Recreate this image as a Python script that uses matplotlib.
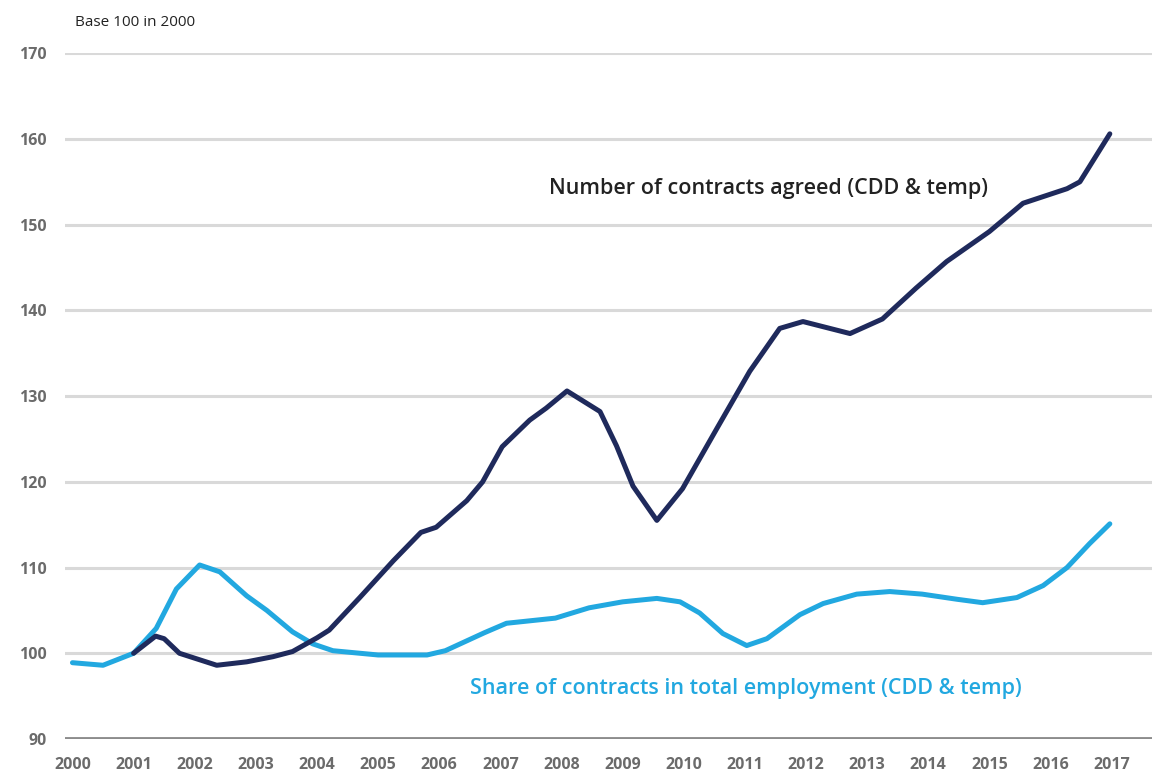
import numpy as np
import matplotlib
matplotlib.use("Agg")
from matplotlib import pyplot as plt

# datos (base 100 en 2000)
share_x = [2000.0, 2000.5, 2001.0, 2001.37, 2001.7, 2002.08, 2002.41, 2002.85, 2003.18,
           2003.6, 2003.93, 2004.26, 2005.0, 2005.8, 2006.1, 2006.74, 2007.1, 2007.9,
           2008.45, 2009.0, 2009.56, 2009.94, 2010.26, 2010.64, 2011.03, 2011.36, 2011.9,
           2012.28, 2012.83, 2013.37, 2013.9, 2014.47, 2014.89, 2015.45, 2015.88, 2016.27,
           2016.64, 2016.97]
share_y = [98.9, 98.6, 100.0, 102.9, 107.5, 110.3, 109.5, 106.7, 105.0,
           102.5, 101.1, 100.3, 99.8, 99.8, 100.3, 102.4, 103.5, 104.1,
           105.3, 106.0, 106.4, 106.0, 104.7, 102.3, 100.9, 101.7, 104.5,
           105.8, 106.9, 107.2, 106.9, 106.3, 105.9, 106.5, 107.9, 110.0,
           112.8, 115.1]

num_x = [2001.0, 2001.36, 2001.5, 2001.75, 2002.36, 2002.85, 2003.28, 2003.6, 2004.0,
         2004.2, 2004.7, 2005.25, 2005.7, 2005.95, 2006.45, 2006.71, 2007.03, 2007.48,
         2007.75, 2008.09, 2008.63, 2008.9, 2009.17, 2009.56, 2009.98, 2010.54, 2011.08,
         2011.57, 2011.95, 2012.72, 2013.25, 2013.8, 2014.3, 2015.0, 2015.55, 2016.27,
         2016.48, 2016.97]
num_y = [100.0, 102.0, 101.7, 100.0, 98.6, 99.0, 99.6, 100.2, 101.8,
         102.7, 106.5, 110.8, 114.1, 114.7, 117.8, 120.0, 124.1, 127.2,
         128.6, 130.6, 128.2, 124.2, 119.5, 115.5, 119.2, 126.2, 132.9,
         137.9, 138.7, 137.3, 139.0, 142.6, 145.7, 149.2, 152.5, 154.2,
         155.0, 160.6]

years = list(range(2000, 2018))
yticks = list(range(90, 171, 10))

DARK = '#1f2a5c'
LIGHT = '#22a8e0'
GRIS = '#6b6b6b'

fig = plt.figure(figsize=(11.52, 7.81), dpi=100)
ax = fig.add_axes([0.056, 0.0538, 0.944, 0.878])

for v in yticks[1:]:
    ax.axhline(v, color='#d9d9d9', lw=2.2, zorder=1)
ax.axhline(90, color='#8c8c8c', lw=3.5, zorder=1)

ax.plot(share_x, share_y, color=LIGHT, lw=3.6, solid_capstyle='round',
        solid_joinstyle='round', zorder=3)
ax.plot(num_x, num_y, color=DARK, lw=3.6, solid_capstyle='round',
        solid_joinstyle='round', zorder=4)

ax.set_xlim(1999.87, 2017.66)
ax.set_ylim(90, 170)
for s in ax.spines.values():
    s.set_visible(False)
ax.set_yticks(yticks)
ax.set_xticks(years)
ax.tick_params(length=0)
ax.tick_params(axis='y', pad=13)
ax.tick_params(axis='x', pad=13)
for lab in ax.get_yticklabels() + ax.get_xticklabels():
    lab.set_fontfamily('Open Sans')
    lab.set_fontweight('bold')
    lab.set_fontsize(11.5)
    lab.set_color(GRIS)

fig.text(75 / 1152, 1 - 23 / 781, 'Base 100 in 2000', fontfamily='Open Sans',
         fontsize=11, color='#222222', va='center', ha='left')

ax.text(2007.8, 154.2, 'Number of contracts agreed (CDD & temp)', fontfamily='Open Sans',
        fontsize=15.5, fontweight='semibold', color='#222222', va='center', ha='left')
ax.text(2006.5, 95.9, 'Share of contracts in total employment (CDD & temp)',
        fontfamily='Open Sans', fontsize=15.5, fontweight='semibold', color=LIGHT,
        va='center', ha='left')

fig.savefig('out.png', dpi=100)
